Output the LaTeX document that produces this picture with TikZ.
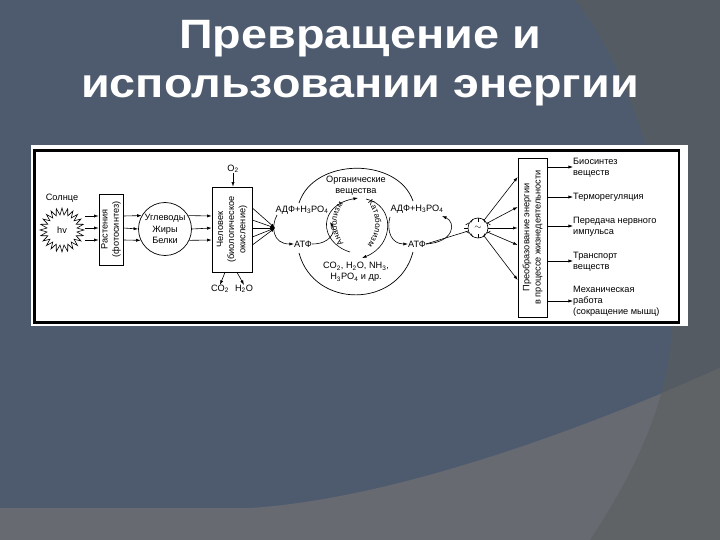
\documentclass[tikz,border=0pt]{standalone}
\usepackage{fontspec}
\setmainfont{Liberation Sans}
\newfontfamily\titlefont[FakeStretch=1.14]{Liberation Sans}
\usepackage{xcolor}
\usetikzlibrary{arrows.meta,positioning,shapes.geometric,decorations.text}
\definecolor{slideblue}{HTML}{4E5B6E}
\definecolor{slidegrey}{HTML}{686A72}
\definecolor{slidedark}{HTML}{555B62}
\definecolor{slidelow}{HTML}{5F6366}
\newcommand{\inkfont}{\fontsize{9.2}{11.2}\selectfont}
\tikzset{
  inkbox/.style={draw, line width=0.7pt, fill=white, align=center, inner sep=0pt, font=\inkfont},
  lbl/.style={font=\inkfont, align=left, inner sep=0pt, text=black},
  mid/.style={font=\inkfont, align=center, inner sep=0pt, text=black},
  arr/.style={-{Latex[length=1.6mm,width=1.1mm]}, line width=0.6pt},
  titleline/.style={font=\titlefont\bfseries\fontsize{41}{45}\selectfont, text=white, anchor=base}
}
\begin{document}
\begin{tikzpicture}[x=1pt, y=-1pt]
\useasboundingbox (0,0) rectangle (720,540);

% Slide background
\fill[slideblue] (0,0) rectangle (720,540);
\fill[slidedark] (575,0) .. controls (625,60) and (672,190) .. (672,320) .. controls (672,400) and (630,480) .. (590,540) -- (720,540) -- (720,0) -- cycle;
\fill[slidegrey] (0,508) -- (250,508) .. controls (380,500) and (560,440) .. (720,368) -- (720,540) -- (0,540) -- cycle;
\begin{scope}
  \clip (672,320) .. controls (672,400) and (630,480) .. (590,540) -- (720,540) -- (720,320) -- cycle;
  \fill[slidelow] (0,508) -- (250,508) .. controls (380,500) and (560,440) .. (720,368) -- (720,540) -- (0,540) -- cycle;
\end{scope}

% Title
\node[titleline] (title1) at (360,49) {Превращение и};
\node[titleline] (title2) at (360,98) {использовании энергии};

% Picture frame
\fill[white] (31,145) rectangle (688,326);
\draw[line width=2.5pt] (34.5,150.5) rectangle (679,322.5);

% Sun
\node[star, star points=24, star point ratio=1.45, draw, fill=white, minimum size=44pt, inner sep=0pt, line width=0.6pt, font=\inkfont] (sun) at (62,230) {hv};
\node[mid] (sunlbl) at (62,198) {Солнце};

% Left chain
\node[inkbox, minimum width=24pt, minimum height=71pt] (plants) at (111,229.5) {\rotatebox{90}{\parbox{66pt}{\centering Растения\\(фотосинтез)}}};
\node[circle, draw, line width=0.7pt, fill=white, minimum size=53pt, inner sep=0pt, mid] (food) at (165,229) {Углеводы\\Жиры\\Белки};
\node[inkbox, minimum width=40pt, minimum height=85pt] (man) at (232,229.5) {\rotatebox{90}{\parbox{82pt}{\centering Человек\\(биологическое\\окисление)}}};

\node[mid] (o2) at (233,169) {O\textsubscript{2}};
\node[mid] (co2) at (220,289) {CO\textsubscript{2}};
\node[mid] (h2o) at (244,289) {H\textsubscript{2}O};
\draw[arr] (o2) -- (man.north -| o2);
\draw[arr] (man.south -| 225,0) -- (co2.north);
\draw[arr] (man.south -| 237,0) -- (h2o.north);

\foreach \y/\l/\r in {216/150/30,228/180/0,240/205/335} {
  \draw[arr] (sun.east |- 0,\y) -- (plants.west |- 0,\y);
  \draw[arr] (plants.east |- 0,\y) -- (food.\l);
  \draw[arr] (food.\r) -- (man.west |- 0,\y);
}

% Energy cycle labels
\node[mid] (adp1) at (302,210) {АДФ+H\textsubscript{3}PO\textsubscript{4}};
\node[mid] (adp2) at (417,209) {АДФ+H\textsubscript{3}PO\textsubscript{4}};
\node[mid] (atp1) at (303,244) {АТФ};
\node[mid] (atp2) at (417,244) {АТФ};
\node[mid] (org) at (356,185.5) {Органические\\вещества};
\node[mid] (waste) at (356,272) {CO\textsubscript{2}, H\textsubscript{2}O, NH\textsubscript{3},\\H\textsubscript{3}PO\textsubscript{4} и др.};

% Outputs of man into cycle
\coordinate (fan) at (275,228);
\foreach \y in {208,220,228,237,245} {
  \draw[arr] (man.east |- 0,\y) -- (fan);
}

% Left hand cycle of ADP and ATP
\draw[arr] (277,215) .. controls (271,226) and (272,244) .. (atp1.west);
\draw[arr] (atp1.east) .. controls (330,244) and (336,232) .. (330,222);

% Right hand cycle
\draw[arr] (390,217) .. controls (386,232) and (392,244) .. (atp2.west);
\draw[arr] (atp2.east) .. controls (455,242) and (456,222) .. (442,216);

% Big outer arcs
\draw[line width=0.7pt] (299,203) .. controls (314,157) and (398,157) .. (413,201);
\draw[line width=0.7pt] (299,253) .. controls (314,309) and (398,309) .. (413,252);

% Inner arcs with text
\draw[arr] (350,252) .. controls (318,242) and (318,205) .. (358,198);
\draw[arr] (366,199) .. controls (395,205) and (395,245) .. (362,258);
\path[postaction={decorate, decoration={text along path, text align=center, text={|\fontsize{8.2}{9}\selectfont|Анаболизм}}}] (354,250) .. controls (331,243) and (331,203) .. (354,198);
\path[postaction={decorate, decoration={text along path, text align=center, text={|\fontsize{8.2}{9}\selectfont|Катаболизм}}}] (358,198) .. controls (381,203) and (381,243) .. (358,250);

% Small sun of transformation
\node[circle, draw, fill=white, minimum size=20pt, inner sep=0pt, line width=0.6pt, font=\inkfont] (conv) at (478,228) {$\sim$};
\foreach \a in {0,30,...,330} {
  \draw[line width=0.6pt] (conv.\a) -- ++(\a:4);
}
\draw[line width=0.6pt] (atp2.east) -- (conv);

% Transformation box
\node[inkbox, minimum width=29pt, minimum height=159pt] (trans) at (532.5,237.5) {\rotatebox{90}{\parbox{152pt}{\centering Преобразование энергии\\в процессе жизнедеятельности}}};

\foreach \y in {177,207,228,245,280} {
  \draw[arr] (conv) -- (trans.west |- 0,\y);
}

% Output labels
\node[lbl, anchor=west] (out1) at (573,167.5) {Биосинтез\\веществ};
\node[lbl, anchor=west] (out2) at (573,197) {Терморегуляция};
\node[lbl, anchor=west] (out3) at (573,226.5) {Передача нервного\\импульса};
\node[lbl, anchor=west] (out4) at (573,261.5) {Транспорт\\веществ};
\node[lbl, anchor=west] (out5) at (573,301) {Механическая\\работа\\(сокращение мышц)};

\foreach \n/\y in {out1/167,out2/197,out3/226,out4/261,out5/301} {
  \draw[arr] (trans.east |- 0,\y) -- (\n.west |- 0,\y);
}

\end{tikzpicture}
\end{document}
